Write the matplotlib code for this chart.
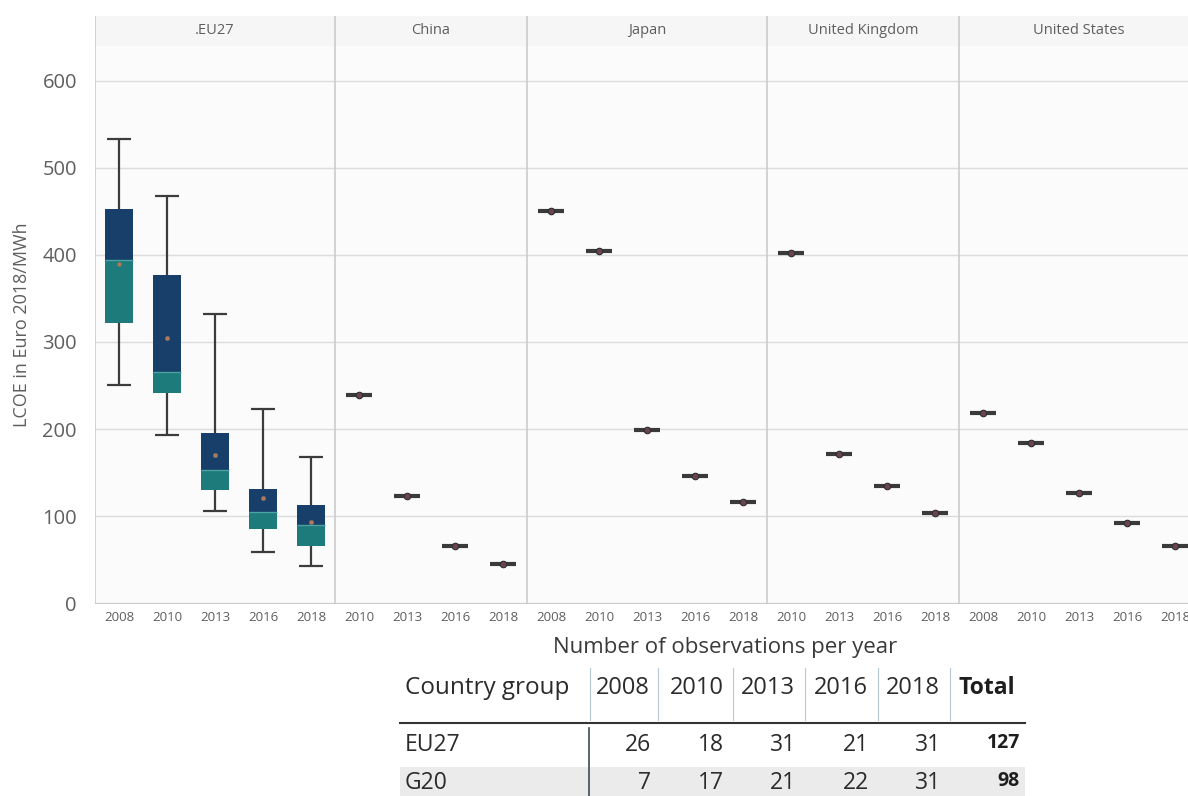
import matplotlib
matplotlib.use("Agg")
import matplotlib.pyplot as plt
from matplotlib.patches import Rectangle

plt.rcParams['font.family'] = ['Open Sans', 'DejaVu Sans']

# ---- data ----
panels = ['.EU27', 'China', 'Japan', 'United Kingdom', 'United States']
panel_years = [
    ['2008', '2010', '2013', '2016', '2018'],
    ['2010', '2013', '2016', '2018'],
    ['2008', '2010', '2013', '2016', '2018'],
    ['2010', '2013', '2016', '2018'],
    ['2008', '2010', '2013', '2016', '2018'],
]

# EU27 box statistics per year
eu_whislo = [251, 193, 106, 59, 43]
eu_q1 = [322, 241, 130, 85, 66]
eu_med = [394, 266, 153, 105, 90]
eu_q3 = [453, 377, 195, 131, 113]
eu_whishi = [533, 468, 332, 223, 168]
eu_mean = [389, 305, 170, 121, 93]

# single observations (LCOE) for the other countries
china_vals = [239, 123, 66, 45]
japan_vals = [451, 405, 199, 146, 116]
uk_vals = [402, 171, 134, 103]
us_vals = [218, 184, 126, 92, 66]

# table of observation counts
table_cols = ['2008', '2010', '2013', '2016', '2018']
table_rows = ['EU27', 'G20']
eu27_counts = [26, 18, 31, 21, 31]
g20_counts = [7, 17, 21, 22, 31]
totals = [127, 98]

NAVY = '#173f6a'
TEAL = '#1e7b7b'
MED = '#4aa3a0'
WHISK = '#3c3c3c'
GRID = '#dcdcdc'
TXT = '#5e5e5e'

W, H = 1188, 796
fig = plt.figure(figsize=(W / 100, H / 100), dpi=100)


def fx(px):
    return px / W


def fy(py):
    return 1 - py / H


n_slots = sum(len(y) for y in panel_years)
slot = 48.0
left = 95
ax_top, ax_bot = 46, 604
ax = fig.add_axes([fx(left), fy(ax_bot), fx(slot * n_slots), (ax_bot - ax_top) / H])
ax.set_facecolor('#fbfbfb')
ax.set_xlim(-0.5, n_slots - 0.5)
ax.set_ylim(-1, 640)

# header strip
hax = fig.add_axes([fx(left), fy(ax_top), fx(slot * n_slots), (ax_top - 16) / H])
hax.set_facecolor('#f6f6f6')
hax.set_xlim(-0.5, n_slots - 0.5)
hax.set_ylim(0, 1)
hax.set_xticks([])
hax.set_yticks([])
for s in hax.spines.values():
    s.set_visible(False)

# grid
ax.set_yticks([0, 100, 200, 300, 400, 500, 600])
ax.yaxis.grid(True, color=GRID, lw=1.0)
ax.set_axisbelow(True)
for s in ax.spines.values():
    s.set_visible(False)
ax.axhline(-1, color='#c8c8c8', lw=1.2)
ax.tick_params(axis='y', length=0, labelsize=14.5, labelcolor=TXT, pad=13)
ax.tick_params(axis='x', length=0, labelsize=9.5, labelcolor=TXT, pad=5)

# positions and panel separators
positions = []
labels = []
start = 0
for i, yrs in enumerate(panel_years):
    pos = list(range(start, start + len(yrs)))
    positions.append(pos)
    labels += yrs
    ax.axvline(start - 0.5, color='#c8c8c8', lw=1.1)
    hax.axvline(start - 0.5, color='#c8c8c8', lw=1.1)
    hax.text((pos[0] + pos[-1]) / 2, 0.5, panels[i], ha='center', va='center',
             fontsize=10.5, color=TXT)
    start += len(yrs)
ax.set_xticks(range(n_slots))
ax.set_xticklabels(labels)

# EU27 boxes
bw = 0.58
cw = 0.5
p = positions[0]
ax.vlines(p, eu_whislo, eu_q1, color=WHISK, lw=1.6, zorder=2)
ax.vlines(p, eu_q3, eu_whishi, color=WHISK, lw=1.6, zorder=2)
ax.hlines(eu_whislo, [x - cw / 2 for x in p], [x + cw / 2 for x in p], color=WHISK, lw=1.6, zorder=2)
ax.hlines(eu_whishi, [x - cw / 2 for x in p], [x + cw / 2 for x in p], color=WHISK, lw=1.6, zorder=2)
ax.bar(p, [m - q for m, q in zip(eu_med, eu_q1)], bottom=eu_q1, width=bw,
       color=TEAL, zorder=3)
ax.bar(p, [q - m for q, m in zip(eu_q3, eu_med)], bottom=eu_med, width=bw,
       color=NAVY, zorder=3)
ax.hlines(eu_med, [x - bw / 2 for x in p], [x + bw / 2 for x in p], color=MED, lw=1.0, zorder=4)
ax.scatter(p, eu_mean, s=10, color='#b07a5a', edgecolor='#6e6e6e', lw=0.5, zorder=5)

# single observations
for pos, vals in zip(positions[1:], [china_vals, japan_vals, uk_vals, us_vals]):
    ax.hlines(vals, [x - 0.27 for x in pos], [x + 0.27 for x in pos], color='#3a3a3a', lw=3, zorder=3)
    ax.scatter(pos, vals, s=22, color='#6b4250', edgecolor='#2e2e2e', lw=0.8, zorder=4)

ax.set_ylabel('LCOE in Euro 2018/MWh', fontsize=13, color=TXT, labelpad=8)

# ---- observation table ----
fig.text(fx(725), fy(648), 'Number of observations per year', ha='center', va='center',
         fontsize=16, color='#3a3a3a')

hdr_y = fy(688)
fig.text(fx(405), hdr_y, 'Country group', ha='left', va='center', fontsize=17.5, color='#2b2b2b')
col_centers = [623, 697, 768, 841, 913]
for c, t in zip(col_centers, table_cols):
    fig.text(fx(c), hdr_y, t, ha='center', va='center', fontsize=17, color='#2b2b2b')
fig.text(fx(987), hdr_y, 'Total', ha='center', va='center', fontsize=16.5, color='#1e1e1e',
         fontweight='bold')
for sx in [590, 658, 733, 805, 878, 950]:
    fig.add_artist(plt.Line2D([fx(sx), fx(sx)], [fy(668), fy(720)], color='#b9c6d3', lw=0.8))
fig.add_artist(plt.Line2D([fx(400), fx(1025)], [fy(723), fy(723)], color='#333333', lw=1.5))

# G20 row shading
fig.add_artist(Rectangle((fx(400), 0), fx(625), fy(767), transform=fig.transFigure,
                         facecolor='#ebebeb', edgecolor='none', zorder=0))
fig.add_artist(plt.Line2D([fx(589), fx(589)], [fy(728), 0], color='#3e4a5a', lw=1.2))

col_rights = [651, 724, 796, 869, 941]
for row_name, counts, tot, ry in zip(table_rows, [eu27_counts, g20_counts], totals, [745, 783]):
    fig.text(fx(405), fy(ry), row_name, ha='left', va='center', fontsize=16.5, color='#2b2b2b')
    for c, v in zip(col_rights, counts):
        fig.text(fx(c), fy(ry), str(v), ha='right', va='center', fontsize=16.5, color='#2b2b2b')
    fig.text(fx(1020), fy(ry - 2), str(tot), ha='right', va='center', fontsize=14,
             color='#1e1e1e', fontweight='bold')

fig.savefig('out.png', dpi=100)
